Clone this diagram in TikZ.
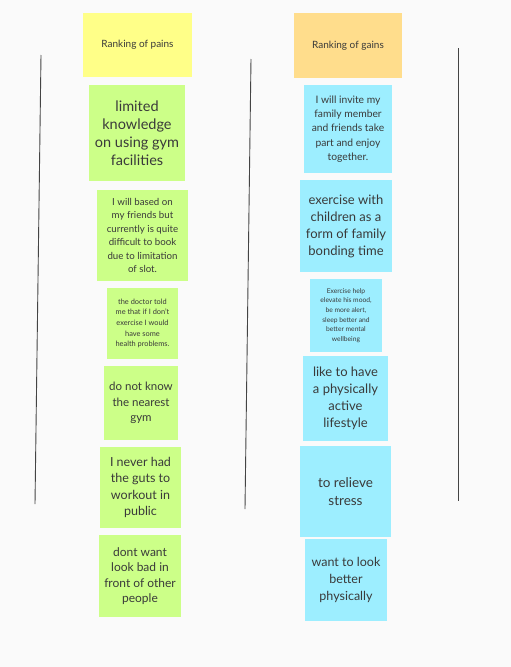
\documentclass[tikz,border=0pt]{standalone}
\usepackage{fontspec}
\setmainfont{Lato}
\definecolor{bg}{HTML}{FAFAFA}
\definecolor{pyel}{HTML}{FFFF88}
\definecolor{porg}{HTML}{FFDD8C}
\definecolor{pgrn}{HTML}{CCFF88}
\definecolor{pblu}{HTML}{9DEEFF}
\definecolor{ink}{HTML}{3A3A3A}
\definecolor{rule}{HTML}{444444}
\tikzset{
  sticky/.style={anchor=north west, inner sep=0pt, outer sep=0pt, align=center, text=ink},
  sep/.style={draw=rule, line width=0.9pt}
}
\newcommand\fs[2]{\fontsize{#1}{#2}\selectfont}
\begin{document}
\begin{tikzpicture}[x=1pt,y=-1pt]
\fill[bg] (0,0) rectangle (511,667);
\useasboundingbox (0,0) rectangle (511,667);
% separator lines
\coordinate (l1t) at (41,55); \coordinate (l1b) at (35,504);
\coordinate (l2t) at (251,59); \coordinate (l2b) at (245,509);
\coordinate (l3t) at (458,48); \coordinate (l3b) at (458,501);
\draw[sep] (l1t) -- (l1b);
\draw[sep] (l2t) -- (l2b);
\draw[sep] (l3t) -- (l3b);
% pains
\node[sticky, fill=pyel, minimum width=109, minimum height=64, font=\fs{10}{12}] (hp) at (83,13) {Ranking of pains};
\node[sticky, fill=pgrn, minimum width=96, minimum height=96, font=\fs{14.5}{18}] (g1) at (89,85) {limited\\knowledge\\on using gym\\facilities};
\node[sticky, fill=pgrn, minimum width=91, minimum height=91, font=\fs{9.7}{13.5}] (g2) at (97,190) {I will based on\\my friends but\\currently is quite\\difficult to book\\due to limitation\\of slot.};
\node[sticky, fill=pgrn, minimum width=71, minimum height=71, font=\fs{7.4}{10.7}] (g3) at (107,288) {the doctor told\\me that if I don't\\exercise I would\\have some\\health problems.};
\node[sticky, fill=pgrn, minimum width=74, minimum height=74, font=\fs{11.5}{15.3}] (g4) at (104,366) {do not know\\the nearest\\gym};
\node[sticky, fill=pgrn, minimum width=81, minimum height=81, font=\fs{12.5}{16.5}] (g5) at (100,447) {I never had\\the guts to\\workout in\\public};
\node[sticky, fill=pgrn, minimum width=82, minimum height=82, font=\fs{12}{15.3}] (g6) at (99,535) {dont want\\look bad in\\front of other\\people};
% gains
\node[sticky, fill=porg, minimum width=108, minimum height=65, font=\fs{10}{12}] (hg) at (294,13) {Ranking of gains};
\node[sticky, fill=pblu, minimum width=88, minimum height=88, font=\fs{10.3}{14.3}] (b1) at (304,85) {I will invite my\\family member\\and friends take\\part and enjoy\\together.};
\node[sticky, fill=pblu, minimum width=92, minimum height=92, font=\fs{13}{17}] (b2) at (300,180) {exercise with\\children as a\\form of family\\bonding time};
\node[sticky, fill=pblu, minimum width=72, minimum height=73, font=\fs{6.7}{9.7}] (b3) at (310,279) {Exercise help\\elevate his mood,\\be more alert,\\sleep better and\\better mental\\wellbeing};
\node[sticky, fill=pblu, minimum width=85, minimum height=85, font=\fs{13}{17}] (b4) at (303,356) {like to have\\a physically\\active\\lifestyle};
\node[sticky, fill=pblu, minimum width=91, minimum height=91, font=\fs{13.5}{18}] (b5) at (300,446) {to relieve\\stress};
\node[sticky, fill=pblu, minimum width=82, minimum height=82, font=\fs{12.5}{16.7}] (b6) at (305,539) {want to look\\better\\physically};
\end{tikzpicture}
\end{document}
